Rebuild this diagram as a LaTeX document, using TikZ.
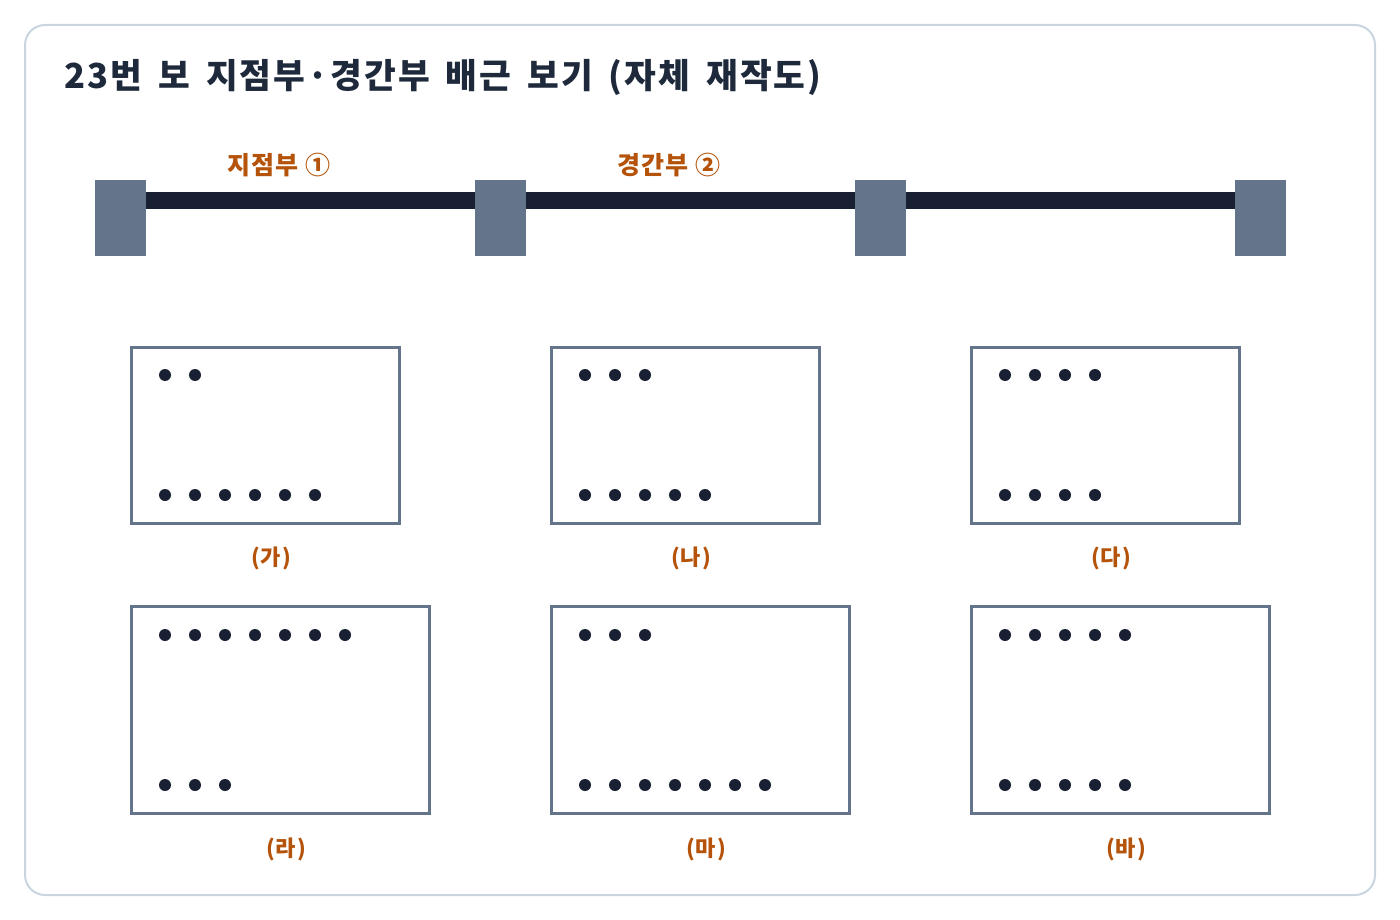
\documentclass[tikz,border=0pt]{standalone}
\usepackage{fontspec}
\setmainfont{Noto Sans CJK KR}
\newfontfamily\wide[LetterSpace=6,WordSpace=1.6]{Noto Sans CJK KR}
\newfontfamily\wideb[LetterSpace=4]{Noto Sans CJK KR}
\definecolor{frame}{HTML}{CBD5E1}
\definecolor{navy}{HTML}{1E293B}
\definecolor{beam}{HTML}{1A2033}
\definecolor{slate}{HTML}{64748B}
\definecolor{org}{HTML}{B45309}
\begin{document}
\begin{tikzpicture}[x=1pt,y=-1pt,
  sup/.style={fill=slate,draw=none},
  sec/.style={draw=slate,line width=3pt,fill=white},
  bar/.style={circle,fill=beam,inner sep=0pt,minimum size=12pt},
  lab/.style={text=org,font=\wideb\bfseries\fontsize{22}{24}\selectfont},
  top/.style={text=org,font=\wideb\bfseries\fontsize{25}{27}\selectfont}]
\useasboundingbox (0,0) rectangle (1400,920);
\fill[white] (0,0) rectangle (1400,920);
\draw[frame,line width=2pt,rounded corners=20pt] (25,25) rectangle (1375,895);
\node[anchor=west,text=navy,font=\wide\bfseries\fontsize{34.5}{37}\selectfont] (title) at (61,77) {23번 보 지점부·경간부 배근 보기 (자체 재작도)};
\fill[beam] (145,192) rectangle (1235,209);
\foreach \x/\n in {95/s1,475/s2,855/s3,1235/s4}{
  \node[sup,minimum width=51pt,minimum height=76pt,inner sep=0pt,anchor=north west] (\n) at (\x,180) {};}
\node[top] (l1) at (279,165) {지점부 ①};
\node[top] (l2) at (669,165) {경간부 ②};
\foreach \a/\b/\c/\d/\yt/\yb/\nt/\nb/\lx/\ly/\t/\n in {
 131/347/399/523/375/495/2/6/271/558/가/A,
 551/347/819/523/375/495/3/5/691/558/나/B,
 971/347/1239/523/375/495/4/4/1111/558/다/C,
 131/606/429/813/635/785/7/3/286/849/라/D,
 551/606/849/813/635/785/3/7/706/849/마/E,
 971/606/1269/813/635/785/5/5/1126/849/바/F}{
  \draw[sec] (\a,\b) rectangle (\c,\d);
  \foreach \k in {1,...,\nt}{\node[bar] (\n t\k) at ({\a+34+30*(\k-1)},\yt) {};}
  \foreach \k in {1,...,\nb}{\node[bar] (\n b\k) at ({\a+34+30*(\k-1)},\yb) {};}
  \node[lab] (\n lab) at (\lx,\ly) {(\t)};
}
\end{tikzpicture}
\end{document}
